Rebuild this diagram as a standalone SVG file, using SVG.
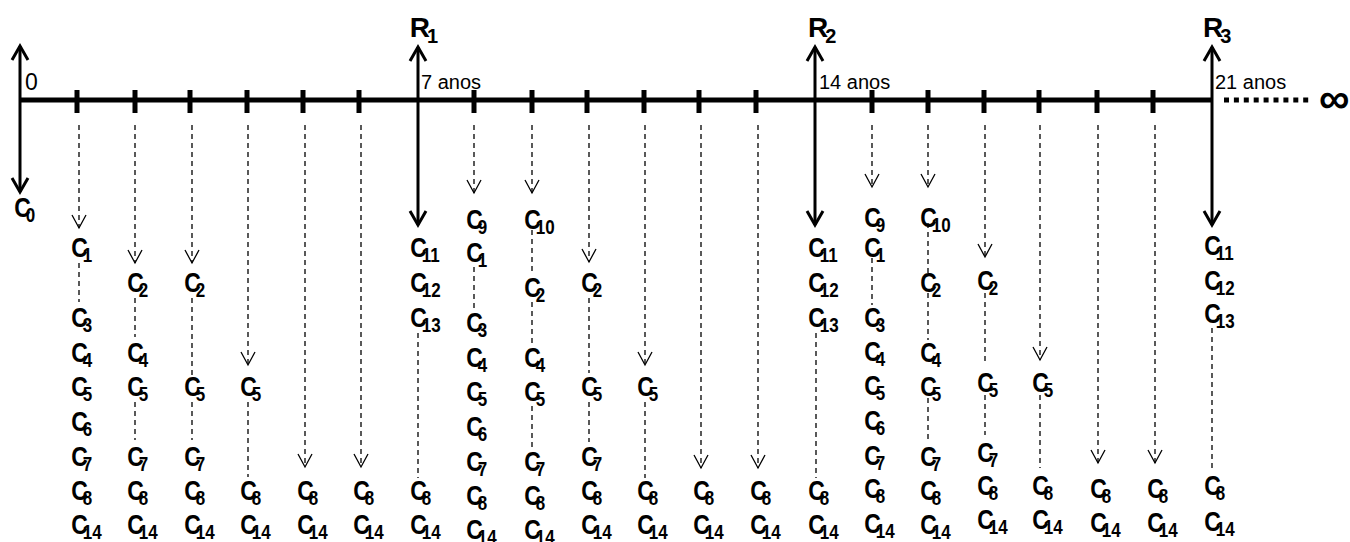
<svg xmlns="http://www.w3.org/2000/svg" width="1350" height="542" viewBox="0 0 1350 542">
<defs>
<style>
.ax{stroke:#000;stroke-width:5;fill:none}
.tk{stroke:#000;stroke-width:5;fill:none}
.big{stroke:#000;stroke-width:3;fill:none;marker-start:url(#ahb);marker-end:url(#ahb)}
.d{stroke:#000;stroke-width:1.3;stroke-dasharray:5 4;fill:none}
.da{stroke:#000;stroke-width:1.3;stroke-dasharray:5 4;fill:none;marker-end:url(#ahs)}
.dots{stroke:#000;stroke-width:5;stroke-dasharray:5 4.9;fill:none}
.c{font-family:"Liberation Sans",Arial,sans-serif;font-weight:bold;font-size:27px;fill:#000}
.r{font-family:"Liberation Sans",Arial,sans-serif;font-weight:bold;font-size:28px;fill:#000}
.s{font-size:20px}
.t{font-family:"Liberation Sans",Arial,sans-serif;font-size:20px;fill:#000}
.inf{font-family:"Liberation Sans",Arial,sans-serif;font-weight:bold;font-size:43px;fill:#000}
</style>
<marker id="ahb" markerUnits="userSpaceOnUse" markerWidth="20" markerHeight="20" refX="0" refY="0" orient="auto-start-reverse" style="overflow:visible"><path d="M-14,-8 L0,0 L-14,8" fill="none" stroke="#000" stroke-width="3"/></marker>
<marker id="ahs" markerUnits="userSpaceOnUse" markerWidth="16" markerHeight="16" refX="0" refY="0" orient="auto" style="overflow:visible"><path d="M-13,-7 L0,0 L-13,7" fill="none" stroke="#000" stroke-width="1.3"/></marker>
</defs>
<rect width="1350" height="542" fill="#fff"/>

<g id="axis">
<line class="ax" x1="20" y1="100" x2="1212" y2="100"/>
<path class="tk" d="M77,90V113M135,90V113M190,90V113M247,90V113M303,90V113M359,90V113M474,90V113M532,90V113M587,90V113M644,90V113M699,90V113M756,90V113M872,90V113M928,90V113M984,90V113M1039,90V113M1097,90V113M1153,90V113"/>
<line class="dots" x1="1224" y1="100" x2="1310" y2="100"/>
<text class="inf" x="1334" y="113" text-anchor="middle">∞</text>
<text class="t" x="25" y="90" style="font-size:23px">0</text>
<text class="t" x="421" y="89">7 anos</text>
<text class="t" x="819" y="89">14 anos</text>
<text class="t" x="1215" y="89">21 anos</text>
</g>

<g id="connectors">
<path class="big" d="M20,192V46"/>
<path class="big" d="M418,225V47"/>
<path class="big" d="M815,225V47"/>
<path class="big" d="M1212,225V47"/>
<!-- segment 1 -->
<path class="da" d="M79,125V228"/><path class="d" d="M79,263V302"/>
<path class="da" d="M135,125V263"/><path class="d" d="M135,298V337M135,402V440"/>
<path class="da" d="M192,125V263"/><path class="d" d="M192,298V375M192,402V440"/>
<path class="da" d="M248,125V365"/><path class="d" d="M248,402V477"/>
<path class="da" d="M305,125V467"/>
<path class="da" d="M361,125V467"/>
<path class="d" d="M418,333V478"/>
<!-- segment 2 -->
<path class="da" d="M474,125V193"/><path class="d" d="M474,267V310"/>
<path class="da" d="M532,125V193"/><path class="d" d="M532,230V273M532,302V345M532,406V447"/>
<path class="da" d="M589,125V262"/><path class="d" d="M589,298V373M589,402V442"/>
<path class="da" d="M645,125V365"/><path class="d" d="M645,402V478"/>
<path class="da" d="M701,125V468"/>
<path class="da" d="M758,125V468"/>
<path class="d" d="M816,333V478"/>
<!-- segment 3 -->
<path class="da" d="M872,125V187"/><path class="d" d="M872,258V305"/>
<path class="da" d="M928,125V187"/><path class="d" d="M928,223V273M928,293V340M928,398V443"/>
<path class="da" d="M985,125V257"/><path class="d" d="M985,293V365M985,395V435"/>
<path class="da" d="M1040,125V360"/><path class="d" d="M1040,395V468"/>
<path class="da" d="M1098,125V463"/>
<path class="da" d="M1155,125V463"/>
<path class="d" d="M1212,328V472"/>
</g>

<g id="R1"><text class="r" x="409.7" y="37">R<tspan class="s" dx="-3" dy="6">1</tspan></text></g>
<g id="R2"><text class="r" x="808" y="37">R<tspan class="s" dx="-3" dy="6">2</tspan></text></g>
<g id="R3"><text class="r" x="1203" y="37">R<tspan class="s" dx="-3" dy="6">3</tspan></text></g>

<g id="C0" transform="translate(22 0) scale(0.85 1)"><text class="c" x="-9" y="217">C<tspan class="s" dx="-6" dy="5">0</tspan></text></g>

<g id="col-1" class="c" transform="translate(79 0) scale(0.85 1)">
<text x="-9" y="257">C<tspan class="s" dx="-6" dy="5.5">1</tspan></text>
<text x="-9" y="327">C<tspan class="s" dx="-6" dy="5.5">3</tspan></text>
<text x="-9" y="362">C<tspan class="s" dx="-6" dy="5.5">4</tspan></text>
<text x="-9" y="396">C<tspan class="s" dx="-6" dy="5.5">5</tspan></text>
<text x="-9" y="431">C<tspan class="s" dx="-6" dy="5.5">6</tspan></text>
<text x="-9" y="466">C<tspan class="s" dx="-6" dy="5.5">7</tspan></text>
<text x="-9" y="500">C<tspan class="s" dx="-6" dy="5.5">8</tspan></text>
<text x="-9" y="534">C<tspan class="s" dx="-6" dy="5.5">14</tspan></text>
</g>
<g id="col-2" class="c" transform="translate(135 0) scale(0.85 1)">
<text x="-9" y="292">C<tspan class="s" dx="-6" dy="5.5">2</tspan></text>
<text x="-9" y="362">C<tspan class="s" dx="-6" dy="5.5">4</tspan></text>
<text x="-9" y="396">C<tspan class="s" dx="-6" dy="5.5">5</tspan></text>
<text x="-9" y="466">C<tspan class="s" dx="-6" dy="5.5">7</tspan></text>
<text x="-9" y="500">C<tspan class="s" dx="-6" dy="5.5">8</tspan></text>
<text x="-9" y="534">C<tspan class="s" dx="-6" dy="5.5">14</tspan></text>
</g>
<g id="col-3" class="c" transform="translate(192 0) scale(0.85 1)">
<text x="-9" y="292">C<tspan class="s" dx="-6" dy="5.5">2</tspan></text>
<text x="-9" y="396">C<tspan class="s" dx="-6" dy="5.5">5</tspan></text>
<text x="-9" y="466">C<tspan class="s" dx="-6" dy="5.5">7</tspan></text>
<text x="-9" y="500">C<tspan class="s" dx="-6" dy="5.5">8</tspan></text>
<text x="-9" y="534">C<tspan class="s" dx="-6" dy="5.5">14</tspan></text>
</g>
<g id="col-4" class="c" transform="translate(248 0) scale(0.85 1)">
<text x="-9" y="396">C<tspan class="s" dx="-6" dy="5.5">5</tspan></text>
<text x="-9" y="500">C<tspan class="s" dx="-6" dy="5.5">8</tspan></text>
<text x="-9" y="534">C<tspan class="s" dx="-6" dy="5.5">14</tspan></text>
</g>
<g id="col-5" class="c" transform="translate(305 0) scale(0.85 1)">
<text x="-9" y="500">C<tspan class="s" dx="-6" dy="5.5">8</tspan></text>
<text x="-9" y="534">C<tspan class="s" dx="-6" dy="5.5">14</tspan></text>
</g>
<g id="col-6" class="c" transform="translate(361 0) scale(0.85 1)">
<text x="-9" y="500">C<tspan class="s" dx="-6" dy="5.5">8</tspan></text>
<text x="-9" y="534">C<tspan class="s" dx="-6" dy="5.5">14</tspan></text>
</g>
<g id="col-R1" class="c" transform="translate(418 0) scale(0.85 1)">
<text x="-9" y="257">C<tspan class="s" dx="-6" dy="5.5">11</tspan></text>
<text x="-9" y="292">C<tspan class="s" dx="-6" dy="5.5">12</tspan></text>
<text x="-9" y="327">C<tspan class="s" dx="-6" dy="5.5">13</tspan></text>
<text x="-9" y="500">C<tspan class="s" dx="-6" dy="5.5">8</tspan></text>
<text x="-9" y="534">C<tspan class="s" dx="-6" dy="5.5">14</tspan></text>
</g>

<g id="col-8" class="c" transform="translate(474 0) scale(0.85 1)">
<text x="-9" y="229">C<tspan class="s" dx="-6" dy="5.5">9</tspan></text>
<text x="-9" y="262">C<tspan class="s" dx="-6" dy="5.5">1</tspan></text>
<text x="-9" y="332">C<tspan class="s" dx="-6" dy="5.5">3</tspan></text>
<text x="-9" y="367">C<tspan class="s" dx="-6" dy="5.5">4</tspan></text>
<text x="-9" y="401">C<tspan class="s" dx="-6" dy="5.5">5</tspan></text>
<text x="-9" y="436">C<tspan class="s" dx="-6" dy="5.5">6</tspan></text>
<text x="-9" y="471">C<tspan class="s" dx="-6" dy="5.5">7</tspan></text>
<text x="-9" y="505">C<tspan class="s" dx="-6" dy="5.5">8</tspan></text>
<text x="-9" y="539">C<tspan class="s" dx="-6" dy="5.5">14</tspan></text>
</g>
<g id="col-9" class="c" transform="translate(532 0) scale(0.85 1)">
<text x="-9" y="229">C<tspan class="s" dx="-6" dy="5.5">10</tspan></text>
<text x="-9" y="297">C<tspan class="s" dx="-6" dy="5.5">2</tspan></text>
<text x="-9" y="367">C<tspan class="s" dx="-6" dy="5.5">4</tspan></text>
<text x="-9" y="401">C<tspan class="s" dx="-6" dy="5.5">5</tspan></text>
<text x="-9" y="471">C<tspan class="s" dx="-6" dy="5.5">7</tspan></text>
<text x="-9" y="505">C<tspan class="s" dx="-6" dy="5.5">8</tspan></text>
<text x="-9" y="539">C<tspan class="s" dx="-6" dy="5.5">14</tspan></text>
</g>
<g id="col-10" class="c" transform="translate(589 0) scale(0.85 1)">
<text x="-9" y="292">C<tspan class="s" dx="-6" dy="5.5">2</tspan></text>
<text x="-9" y="396">C<tspan class="s" dx="-6" dy="5.5">5</tspan></text>
<text x="-9" y="466">C<tspan class="s" dx="-6" dy="5.5">7</tspan></text>
<text x="-9" y="500">C<tspan class="s" dx="-6" dy="5.5">8</tspan></text>
<text x="-9" y="534">C<tspan class="s" dx="-6" dy="5.5">14</tspan></text>
</g>
<g id="col-11" class="c" transform="translate(645 0) scale(0.85 1)">
<text x="-9" y="396">C<tspan class="s" dx="-6" dy="5.5">5</tspan></text>
<text x="-9" y="500">C<tspan class="s" dx="-6" dy="5.5">8</tspan></text>
<text x="-9" y="534">C<tspan class="s" dx="-6" dy="5.5">14</tspan></text>
</g>
<g id="col-12" class="c" transform="translate(701 0) scale(0.85 1)">
<text x="-9" y="500">C<tspan class="s" dx="-6" dy="5.5">8</tspan></text>
<text x="-9" y="534">C<tspan class="s" dx="-6" dy="5.5">14</tspan></text>
</g>
<g id="col-13" class="c" transform="translate(758 0) scale(0.85 1)">
<text x="-9" y="500">C<tspan class="s" dx="-6" dy="5.5">8</tspan></text>
<text x="-9" y="534">C<tspan class="s" dx="-6" dy="5.5">14</tspan></text>
</g>
<g id="col-R2" class="c" transform="translate(816 0) scale(0.85 1)">
<text x="-9" y="257">C<tspan class="s" dx="-6" dy="5.5">11</tspan></text>
<text x="-9" y="292">C<tspan class="s" dx="-6" dy="5.5">12</tspan></text>
<text x="-9" y="327">C<tspan class="s" dx="-6" dy="5.5">13</tspan></text>
<text x="-9" y="500">C<tspan class="s" dx="-6" dy="5.5">8</tspan></text>
<text x="-9" y="534">C<tspan class="s" dx="-6" dy="5.5">14</tspan></text>
</g>

<g id="col-15" class="c" transform="translate(872 0) scale(0.85 1)">
<text x="-9" y="227">C<tspan class="s" dx="-6" dy="5.5">9</tspan></text>
<text x="-9" y="257">C<tspan class="s" dx="-6" dy="5.5">1</tspan></text>
<text x="-9" y="327">C<tspan class="s" dx="-6" dy="5.5">3</tspan></text>
<text x="-9" y="361">C<tspan class="s" dx="-6" dy="5.5">4</tspan></text>
<text x="-9" y="395">C<tspan class="s" dx="-6" dy="5.5">5</tspan></text>
<text x="-9" y="430">C<tspan class="s" dx="-6" dy="5.5">6</tspan></text>
<text x="-9" y="465">C<tspan class="s" dx="-6" dy="5.5">7</tspan></text>
<text x="-9" y="498">C<tspan class="s" dx="-6" dy="5.5">8</tspan></text>
<text x="-9" y="533">C<tspan class="s" dx="-6" dy="5.5">14</tspan></text>
</g>
<g id="col-16" class="c" transform="translate(928 0) scale(0.85 1)">
<text x="-9" y="227">C<tspan class="s" dx="-6" dy="5.5">10</tspan></text>
<text x="-9" y="292">C<tspan class="s" dx="-6" dy="5.5">2</tspan></text>
<text x="-9" y="362">C<tspan class="s" dx="-6" dy="5.5">4</tspan></text>
<text x="-9" y="396">C<tspan class="s" dx="-6" dy="5.5">5</tspan></text>
<text x="-9" y="466">C<tspan class="s" dx="-6" dy="5.5">7</tspan></text>
<text x="-9" y="500">C<tspan class="s" dx="-6" dy="5.5">8</tspan></text>
<text x="-9" y="534">C<tspan class="s" dx="-6" dy="5.5">14</tspan></text>
</g>
<g id="col-17" class="c" transform="translate(985 0) scale(0.85 1)">
<text x="-9" y="290">C<tspan class="s" dx="-6" dy="5.5">2</tspan></text>
<text x="-9" y="392">C<tspan class="s" dx="-6" dy="5.5">5</tspan></text>
<text x="-9" y="462">C<tspan class="s" dx="-6" dy="5.5">7</tspan></text>
<text x="-9" y="495">C<tspan class="s" dx="-6" dy="5.5">8</tspan></text>
<text x="-9" y="529">C<tspan class="s" dx="-6" dy="5.5">14</tspan></text>
</g>
<g id="col-18" class="c" transform="translate(1040 0) scale(0.85 1)">
<text x="-9" y="392">C<tspan class="s" dx="-6" dy="5.5">5</tspan></text>
<text x="-9" y="495">C<tspan class="s" dx="-6" dy="5.5">8</tspan></text>
<text x="-9" y="529">C<tspan class="s" dx="-6" dy="5.5">14</tspan></text>
</g>
<g id="col-19" class="c" transform="translate(1098 0) scale(0.85 1)">
<text x="-9" y="498">C<tspan class="s" dx="-6" dy="5.5">8</tspan></text>
<text x="-9" y="532">C<tspan class="s" dx="-6" dy="5.5">14</tspan></text>
</g>
<g id="col-20" class="c" transform="translate(1155 0) scale(0.85 1)">
<text x="-9" y="498">C<tspan class="s" dx="-6" dy="5.5">8</tspan></text>
<text x="-9" y="532">C<tspan class="s" dx="-6" dy="5.5">14</tspan></text>
</g>
<g id="col-R3" class="c" transform="translate(1212 0) scale(0.85 1)">
<text x="-9" y="255">C<tspan class="s" dx="-6" dy="5.5">11</tspan></text>
<text x="-9" y="290">C<tspan class="s" dx="-6" dy="5.5">12</tspan></text>
<text x="-9" y="323">C<tspan class="s" dx="-6" dy="5.5">13</tspan></text>
<text x="-9" y="495">C<tspan class="s" dx="-6" dy="5.5">8</tspan></text>
<text x="-9" y="531">C<tspan class="s" dx="-6" dy="5.5">14</tspan></text>
</g>
</svg>
